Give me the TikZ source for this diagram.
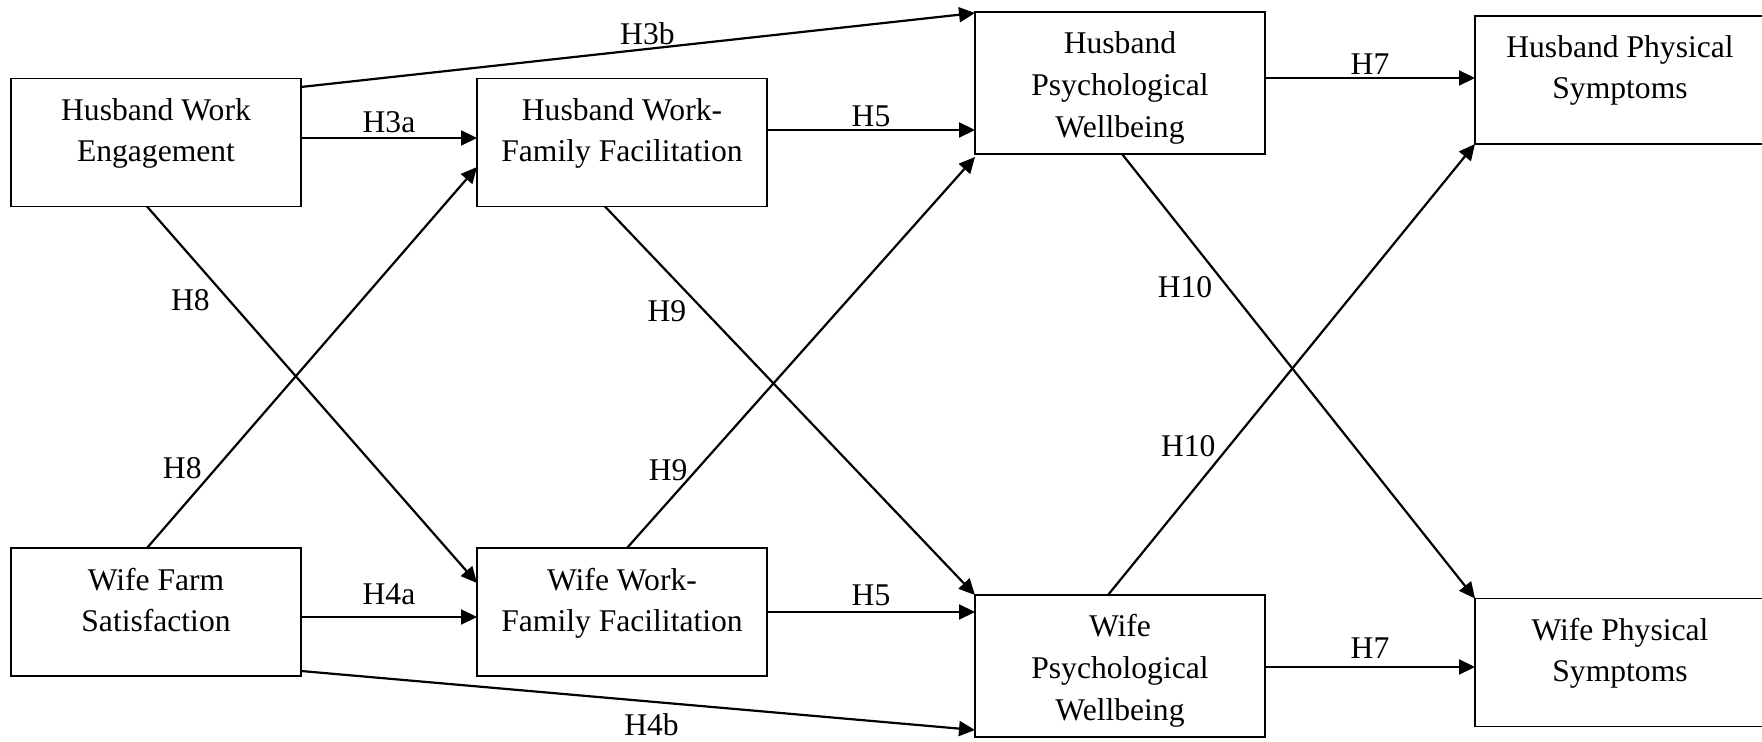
\documentclass[tikz,border=0pt]{standalone}
\usepackage{fontspec}
\setmainfont{Liberation Serif}
\usetikzlibrary{arrows.meta, positioning}

\begin{document}
\begin{tikzpicture}[
    x=0.5pt, y=-0.5pt,
    node distance = 88pt,
    % --- Node styles ---
    construct/.style = {rectangle, draw=black, line width=0.75pt,
        minimum width=145pt, minimum height=64pt, align=center,
        inner sep=0pt, outer sep=0pt, font=\fontsize{15.8}{20.5}\selectfont},
    twoline/.style = {construct, text depth=12.5pt},
    threeline/.style = {construct, minimum height=71pt, text height=58pt,
        font=\fontsize{15.8}{21}\selectfont},
    % --- Arrow style ---
    arrow/.style = {line width=1.1pt, -{Triangle[length=8pt, width=7.5pt]}},
    % --- Path labels ---
    hyp/.style = {inner sep=0pt, font=\fontsize{15.8}{20.5}\selectfont}
]

\useasboundingbox (0,0) rectangle (1762,742);

% ==================== HUSBAND ROW ====================
\node[twoline] (hwe) at (156,142.5) {Husband Work\\Engagement};
\node[twoline, right=of hwe] (hwff) {Husband Work-\\Family Facilitation};
\node[threeline] (hpw) at (1120,83) {Husband\\Psychological\\Wellbeing};
\node[twoline] (hps) at (1620,80) {Husband Physical\\Symptoms};

% ==================== WIFE ROW ====================
\node[twoline, below=170.75pt of hwe] (wfs) {Wife Farm\\Satisfaction};
\node[twoline, right=of wfs] (wwff) {Wife Work-\\Family Facilitation};
\node[threeline] (wpw) at (1120,666) {Wife\\Psychological\\Wellbeing};
\node[twoline] (wps) at (1620,662.5) {Wife Physical\\Symptoms};

% ==================== HORIZONTAL PATHS ====================
\coordinate (h5h) at ([yshift=6.25pt]hwff.east);
\coordinate (h7h) at ([yshift=2.5pt]hpw.east);
\coordinate (h7w) at ([yshift=-0.5pt]wpw.east);

\draw[arrow] ([yshift=2.25pt]hwe.east) -- node[hyp, above=2pt] (lh3a) {H3a} ([yshift=2.25pt]hwff.west);
\draw[arrow] ([yshift=-4.25pt]hwe.north east) -- node[hyp, pos=0.514, above=1.5pt] (lh3b) {H3b} ([yshift=-0.5pt]hpw.north west);
\draw[arrow] (h5h) -- node[hyp, above=1pt] (lh5) {H5} (h5h -| hpw.west);
\draw[arrow] (h7h) -- node[hyp, above=1pt] (lh7) {H7} (h7h -| hps.west);

\draw[arrow] ([yshift=-2.5pt]wfs.east) -- node[hyp, above=5.75pt] (lw4a) {H4a} ([yshift=-2.5pt]wwff.west);
\draw[arrow] ([yshift=2.5pt]wfs.south east) -- node[hyp, pos=0.52, below=5.5pt] (lw4b) {H4b} ([yshift=3.5pt]wpw.south west);
\draw[arrow] (wwff.east) -- node[hyp, above=2.3pt] (lw5) {H5} (wwff.east -| wpw.west);
\draw[arrow] (h7w) -- node[hyp, above=3.5pt] (lw7) {H7} (h7w -| wps.west);

% ==================== CROSSOVER PATHS ====================
\draw[arrow] ([xshift=-4.5pt]hwe.south) -- node[hyp, pos=0.25, left=9.3pt] (lh8) {H8} ([yshift=14.5pt]wwff.west);
\draw[arrow] ([xshift=-4.5pt]wfs.north) -- node[hyp, pos=0.21, left=6.8pt] (lw8) {H8} ([yshift=-12.25pt]hwff.west);
\draw[arrow] ([xshift=-8.5pt]hwff.south) -- node[hyp, pos=0.27, left=8.8pt] (lh9) {H9} (wpw.north west);
\draw[arrow] ([xshift=2.5pt]wwff.north) -- node[hyp, pos=0.2, left=4pt] (lw9) {H9} ([yshift=-1.5pt]hpw.south west);
\draw[arrow] ([xshift=1pt]hpw.south) -- node[hyp, pos=0.3, left=7.3pt] (lh10) {H10} (wps.north west);
\draw[arrow] ([xshift=-6pt]wpw.north) -- node[hyp, pos=0.33, left=6.3pt] (lw10) {H10} (hps.south west);

\end{tikzpicture}
\end{document}
